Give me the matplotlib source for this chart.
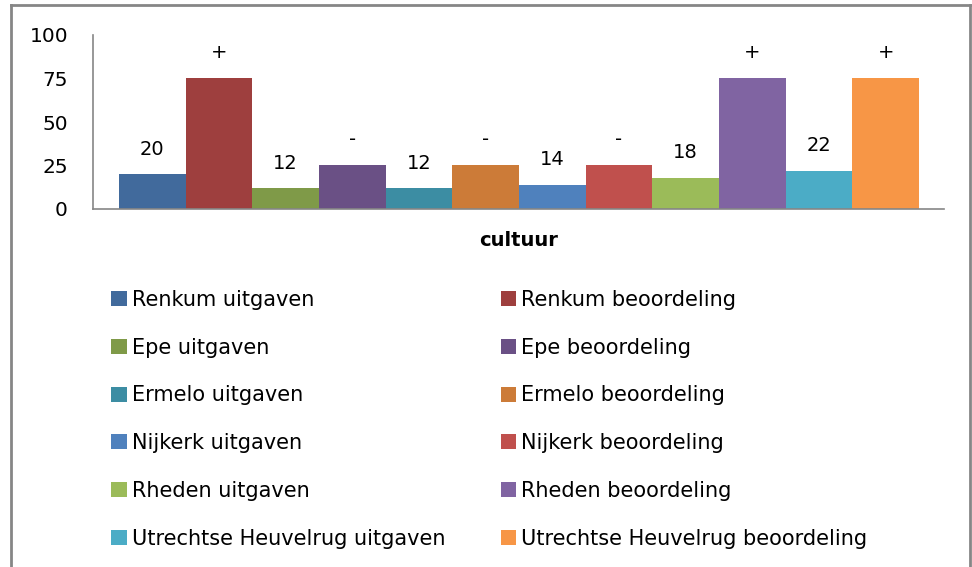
import matplotlib
matplotlib.use("Agg")
import matplotlib.pyplot as plt
from matplotlib.lines import Line2D

plt.rcParams.update({
    "font.family": "DejaVu Sans",
    "font.size": 14,
})

# data
gemeenten = ["Renkum", "Epe", "Ermelo", "Nijkerk", "Rheden", "Utrechtse Heuvelrug"]
uitgaven = [20, 12, 12, 14, 18, 22]
beoordeling = [75, 25, 25, 25, 75, 75]
oordeel = ["+", "-", "-", "-", "+", "+"]
kleur_uit = ["#416A9C", "#7F9A48", "#3C8DA3", "#4F81BD", "#9BBB59", "#4BACC6"]
kleur_beo = ["#9E3F3E", "#6A5085", "#CC7B38", "#C0504D", "#8064A2", "#F79646"]
yticks = [0, 25, 50, 75, 100]
categorie = "cultuur"

W, H = 972, 567
fig = plt.figure(figsize=(W / 100, H / 100), dpi=100)
ax = fig.add_axes([93 / W, 1 - 209 / H, (944 - 93) / W, (209 - 35) / H])

h_uit, h_beo = [], []
for i, g in enumerate(gemeenten):
    b1 = ax.bar(2 * i, uitgaven[i], width=1.0, color=kleur_uit[i],
                label=f"{g} uitgaven")
    b2 = ax.bar(2 * i + 1, beoordeling[i], width=1.0, color=kleur_beo[i],
                label=f"{g} beoordeling")
    h_uit.append(b1)
    h_beo.append(b2)
    ax.annotate(str(uitgaven[i]), (2 * i, uitgaven[i]), xytext=(0, 18),
                textcoords="offset points", ha="center", va="center", fontsize=14)
    ax.annotate(oordeel[i], (2 * i + 1, beoordeling[i]), xytext=(0, 19),
                textcoords="offset points", ha="center", va="center", fontsize=14)

ax.set_xlim(-0.89, 11.875)
ax.set_ylim(0, 100)
ax.set_yticks(yticks)
ax.set_xticks([])
ax.tick_params(axis="y", length=0, pad=18, labelsize=14.5)
for s in ["top", "right"]:
    ax.spines[s].set_visible(False)
for s in ["left", "bottom"]:
    ax.spines[s].set_color("#868686")
    ax.spines[s].set_linewidth(1.2)
ax.set_xlabel(categorie, fontweight="bold", fontsize=14, labelpad=16)

# legend: uitgaven in left column, beoordeling in right column
handles = h_uit + h_beo
labels = [f"{g} uitgaven" for g in gemeenten] + [f"{g} beoordeling" for g in gemeenten]
fig.legend(handles, labels, ncol=2, loc="upper left",
           bbox_to_anchor=(111 / W, 1 - 290 / H), frameon=False,
           borderpad=0, borderaxespad=0, handlelength=0.75, handleheight=0.75,
           handletextpad=0.25, labelspacing=1.33, columnspacing=2.65, fontsize=15)

# outer chart frame
frame = dict(color="#868686", linewidth=2.0, transform=fig.transFigure)
fig.add_artist(Line2D([11 / W, 11 / W], [0, 1 - 5 / H], **frame))
fig.add_artist(Line2D([11 / W, 970 / W], [1 - 5 / H, 1 - 5 / H], **frame))
fig.add_artist(Line2D([970 / W, 970 / W], [0, 1 - 5 / H], **frame))

fig.savefig("out.png", dpi=100)
